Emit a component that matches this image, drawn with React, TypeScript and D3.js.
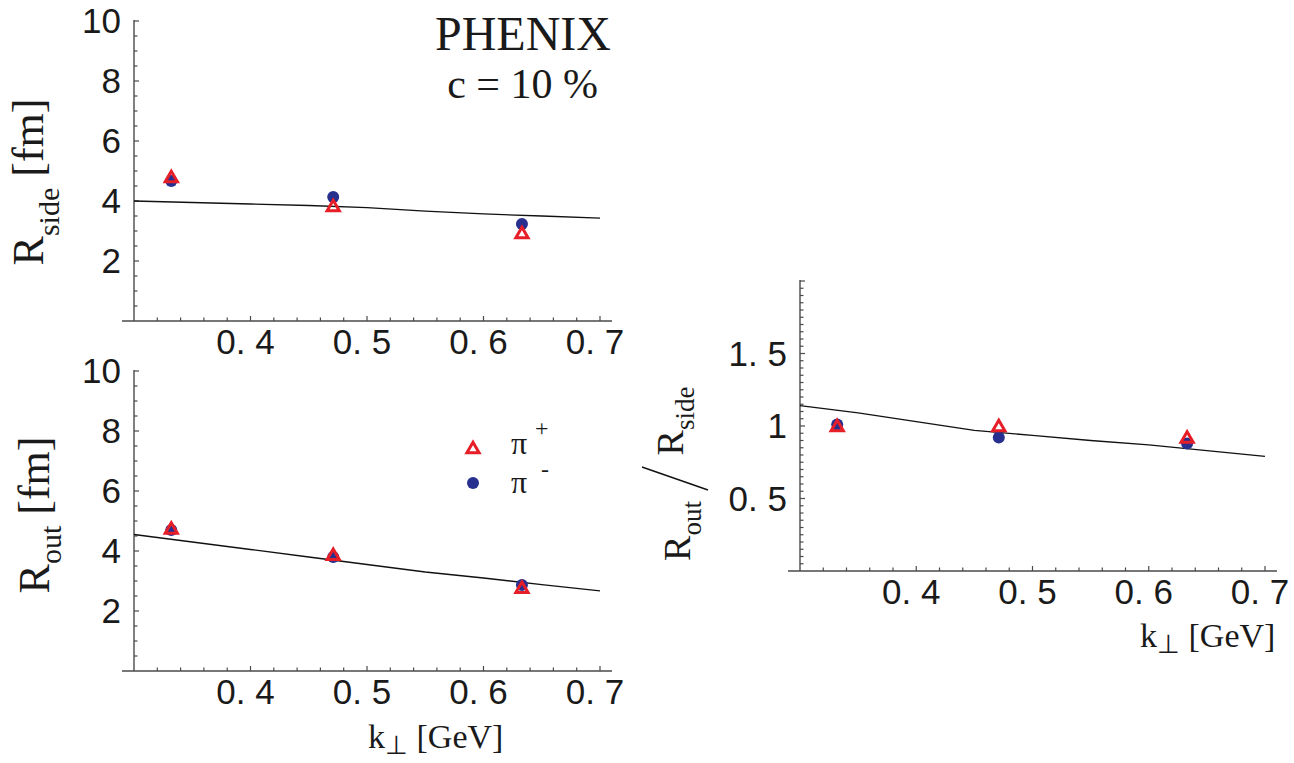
import React from "react";
import * as d3 from "d3";

// Pion HBT radii vs transverse pair momentum (PHENIX, c = 10 %)
const kT = [0.332, 0.471, 0.633];
const rSidePlus = [4.8, 3.83, 2.93];
const rSideMinus = [4.67, 4.13, 3.23];
const rOutPlus = [4.75, 3.87, 2.77];
const rOutMinus = [4.7, 3.8, 2.87];
const ratioPlus = [1.0, 1.0, 0.92];
const ratioMinus = [1.01, 0.92, 0.88];

// Hydrodynamic model curves
const modelK = [0.3, 0.35, 0.4, 0.45, 0.5, 0.55, 0.6, 0.65, 0.7];
const modelSide = [4.0, 3.95, 3.9, 3.85, 3.78, 3.66, 3.57, 3.5, 3.43];
const modelOut = [4.55, 4.3, 4.05, 3.8, 3.55, 3.3, 3.1, 2.88, 2.67];
const modelRatio = [1.14, 1.09, 1.03, 0.97, 0.935, 0.9, 0.87, 0.83, 0.79];

const xTickLabels = [0.4, 0.5, 0.6, 0.7];
const radiusTickLabels = [2, 4, 6, 8, 10];
const ratioTickLabels = [0.5, 1, 1.5];

const RED = "#e61e28";
const BLUE = "#28308f";
const AXIS = "#4a4a4a";
const SANS = "'Liberation Sans', Arial, sans-serif";
const SERIF = "'Liberation Serif', 'Times New Roman', serif";

const fmtTick = (v: number) => {
  const s = String(v);
  return s.includes(".") ? s.replace(".", ". ") : s;
};

type PanelProps = {
  x0: number;
  x1: number;
  yBottom: number;
  yTop: number;
  yMax: number;
  minorStep: number;
  majorStep: number;
  yLabels: number[];
  plus: number[];
  minus: number[];
  model: number[];
};

function Triangle({ cx, cy }: { cx: number; cy: number }) {
  const s = 5.8;
  const p = `M${cx},${cy - s}L${cx + s * 1.05},${cy + s * 0.8}L${cx - s * 1.05},${cy + s * 0.8}Z`;
  return <path d={p} fill="none" stroke={RED} strokeWidth={3} strokeLinejoin="miter" />;
}

function Panel(p: PanelProps) {
  const x = d3.scaleLinear().domain([0.3, 0.7]).range([p.x0, p.x1]);
  const y = d3.scaleLinear().domain([0, p.yMax]).range([p.yBottom, p.yTop]);
  const line = d3
    .line<number>()
    .x((_, i) => x(modelK[i]))
    .y((d) => y(d));

  const xMinor = d3.range(0.32, 0.7001, 0.02);
  const nY = Math.round(p.yMax / p.minorStep);
  const yMinor = d3.range(1, nY + 1).map((i) => i * p.minorStep);
  const isMajor = (v: number) => Math.abs(v / p.majorStep - Math.round(v / p.majorStep)) < 1e-6;
  const isMajorX = (v: number) => Math.abs(v * 10 - Math.round(v * 10)) < 1e-6;

  return (
    <g>
      {/* axes */}
      <line x1={p.x0 - 12} x2={p.x1 + 12} y1={p.yBottom} y2={p.yBottom} stroke={AXIS} strokeWidth={1.4} />
      <line x1={p.x0} x2={p.x0} y1={p.yBottom} y2={y(p.yMax) - 1} stroke={AXIS} strokeWidth={1.4} />
      {xMinor.map((v, i) => (
        <line key={"xt" + i} x1={x(v)} x2={x(v)} y1={p.yBottom} y2={p.yBottom - (isMajorX(v) ? 5 : 3.5)} stroke={AXIS} strokeWidth={1.2} />
      ))}
      {yMinor.map((v, i) => (
        <line key={"yt" + i} x1={p.x0} x2={p.x0 + (isMajor(v) ? 5 : 3.5)} y1={y(v)} y2={y(v)} stroke={AXIS} strokeWidth={1.2} />
      ))}
      {xTickLabels.map((v) => (
        <text key={"xl" + v} x={x(v) - 5} y={p.yBottom + 33} textAnchor="middle" fontFamily={SANS} fontSize={35} fill="#1a1a1a" style={{ whiteSpace: "pre" }}>
          {fmtTick(v)}
        </text>
      ))}
      {p.yLabels.map((v) => (
        <text key={"yl" + v} x={p.x0 - 13} y={y(v) + 12} textAnchor="end" fontFamily={SANS} fontSize={35} fill="#1a1a1a" style={{ whiteSpace: "pre" }}>
          {fmtTick(v)}
        </text>
      ))}
      {/* model curve */}
      <path d={line(p.model) || ""} fill="none" stroke="#111" strokeWidth={1.3} />
      {/* data */}
      {kT.map((k, i) => (
        <circle key={"m" + i} cx={x(k)} cy={y(p.minus[i])} r={6} fill={BLUE} />
      ))}
      {kT.map((k, i) => (
        <Triangle key={"p" + i} cx={x(k)} cy={y(p.plus[i])} />
      ))}
    </g>
  );
}

export default function App() {
  return (
    <svg width={1294} height={763} viewBox="0 0 1294 763" style={{ display: "block", position: "absolute", left: 0, top: 0, background: "#fff" }}>
      <rect x={0} y={0} width={1294} height={763} fill="#fff" />
      <Panel x0={134} x1={600} yBottom={321} yTop={21} yMax={10} minorStep={0.5} majorStep={2} yLabels={radiusTickLabels} plus={rSidePlus} minus={rSideMinus} model={modelSide} />
      <Panel x0={134} x1={600} yBottom={671} yTop={371} yMax={10} minorStep={0.5} majorStep={2} yLabels={radiusTickLabels} plus={rOutPlus} minus={rOutMinus} model={modelOut} />
      <Panel x0={800} x1={1265} yBottom={571} yTop={281} yMax={2} minorStep={0.05} majorStep={0.5} yLabels={ratioTickLabels} plus={ratioPlus} minus={ratioMinus} model={modelRatio} />

      {/* titles */}
      <text x={611} y={50} textAnchor="end" fontFamily={SERIF} fontSize={48} fill="#1a1a1a">PHENIX</text>
      <text x={598} y={98} textAnchor="end" fontFamily={SERIF} fontSize={42} fill="#1a1a1a" style={{ whiteSpace: "pre" }}>c = 10 %</text>

      {/* y axis titles */}
      <text transform="translate(43,182) rotate(-90)" textAnchor="middle" fontFamily={SERIF} fontSize={44} fill="#1a1a1a" style={{ whiteSpace: "pre" }}>
        R<tspan fontSize={30} dy={16}>side</tspan><tspan dy={-16}> [fm]</tspan>
      </text>
      <text transform="translate(49,515) rotate(-90)" textAnchor="middle" fontFamily={SERIF} fontSize={44} fill="#1a1a1a" style={{ whiteSpace: "pre" }}>
        R<tspan fontSize={30} dy={12}>out</tspan><tspan dy={-12}> [fm]</tspan>
      </text>
      <text transform="translate(690,531) rotate(-90)" textAnchor="middle" fontFamily={SERIF} fontSize={38} fill="#1a1a1a">
        R<tspan fontSize={27} dy={11}>out</tspan>
      </text>
      <line x1={642} y1={467} x2={708} y2={490} stroke="#111" strokeWidth={1.4} />
      <text transform="translate(683,421) rotate(-90)" textAnchor="middle" fontFamily={SERIF} fontSize={38} fill="#1a1a1a">
        R<tspan fontSize={27} dy={11}>side</tspan>
      </text>

      {/* x axis titles */}
      <text x={368} y={748} fontFamily={SERIF} fontSize={34} fill="#1a1a1a" style={{ whiteSpace: "pre" }}>
        k<tspan fontSize={26} dy={6}>⊥</tspan><tspan dy={-6}> [GeV]</tspan>
      </text>
      <text x={1140} y={647} fontFamily={SERIF} fontSize={34} fill="#1a1a1a" style={{ whiteSpace: "pre" }}>
        k<tspan fontSize={26} dy={6}>⊥</tspan><tspan dy={-6}> [GeV]</tspan>
      </text>

      {/* legend */}
      <Triangle cx={473} cy={448} />
      <text x={511} y={454} fontFamily={SERIF} fontSize={32} fill="#1a1a1a">π</text>
      <text x={535} y={436} fontFamily={SERIF} fontSize={24} fill="#1a1a1a">+</text>
      <circle cx={473} cy={483} r={6} fill={BLUE} />
      <text x={511} y={493} fontFamily={SERIF} fontSize={32} fill="#1a1a1a">π</text>
      <text x={541} y={477} fontFamily={SERIF} fontSize={24} fill="#1a1a1a">-</text>
    </svg>
  );
}
